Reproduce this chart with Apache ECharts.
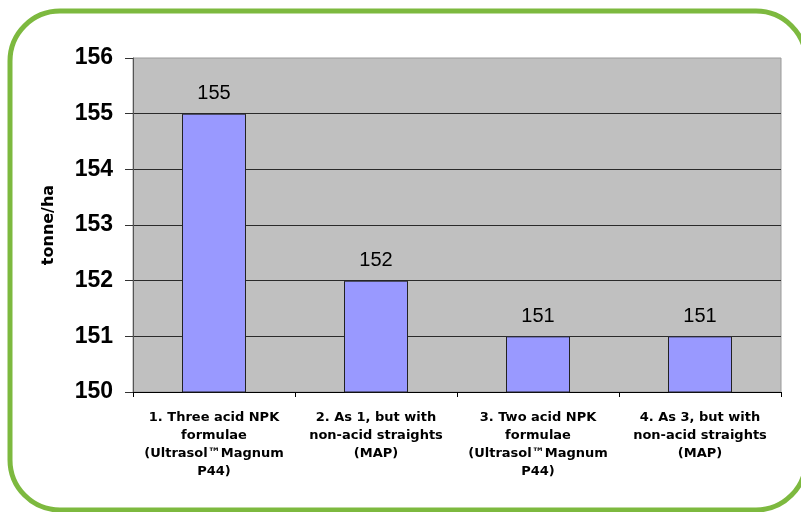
<!DOCTYPE html>
<html>
<head>
<meta charset="utf-8">
<script src="https://cdn.jsdelivr.net/npm/echarts@6/dist/echarts.min.js"></script>
<style>
  html, body { margin: 0; padding: 0; background: #fff; }
  #chart { width: 801px; height: 512px; }
</style>
</head>
<body>
<div id="chart"></div>
<script>
// Yield per fertiliser programme
const categories = [
  '1. Three acid NPK\nformulae\n(Ultrasol\u2122Magnum\nP44)',
  '2. As 1, but with\nnon-acid straights\n(MAP)',
  '3. Two acid NPK\nformulae\n(Ultrasol\u2122Magnum\nP44)',
  '4. As 3, but with\nnon-acid straights\n(MAP)'
];
const yieldValues = [155, 152, 151, 151];
const yAxisTitle = 'tonne/ha';
const yMin = 150;
const yMax = 156;
const yStep = 1;

const chart = echarts.init(document.getElementById('chart'), null, { renderer: 'canvas' });

chart.setOption({
  animation: false,
  backgroundColor: '#ffffff',
  graphic: [{
    type: 'rect',
    z: -10,
    shape: { x: 10, y: 11, width: 796, height: 499, r: 50 },
    style: { fill: 'none', stroke: '#7db93f', lineWidth: 5 }
  }],
  grid: {
    left: 133, right: 20, top: 58, bottom: 120,
    show: true,
    backgroundColor: '#c0c0c0',
    borderColor: '#9a9a9a',
    borderWidth: 1
  },
  xAxis: {
    type: 'category',
    data: categories,
    axisLine: { lineStyle: { color: '#000', width: 1 } },
    axisTick: { show: true, length: 5, lineStyle: { color: '#000' } },
    axisLabel: {
      interval: 0,
      margin: 17,
      color: '#000',
      fontFamily: 'DejaVu Sans, sans-serif',
      fontWeight: 'bold',
      fontSize: 13,
      lineHeight: 18
    }
  },
  yAxis: {
    type: 'value',
    min: yMin, max: yMax, interval: yStep,
    name: yAxisTitle,
    nameLocation: 'middle',
    nameGap: 76,
    nameRotate: 90,
    nameTextStyle: {
      color: '#000',
      fontFamily: 'DejaVu Sans, sans-serif',
      fontWeight: 'bold',
      fontSize: 16
    },
    axisLine: { show: true, lineStyle: { color: '#555', width: 1 } },
    axisTick: { show: true, length: 8, lineStyle: { color: '#333' } },
    axisLabel: {
      margin: 20,
      color: '#000',
      fontFamily: 'Liberation Sans, Arial, sans-serif',
      fontWeight: 'bold',
      fontSize: 23
    },
    splitLine: {
      show: true,
      showMaxLine: false,
      lineStyle: { color: '#2a2a2a', width: 1 }
    }
  },
  series: [{
    type: 'bar',
    data: yieldValues,
    barWidth: 64,
    itemStyle: { color: '#9999ff', borderColor: '#222', borderWidth: 1 },
    label: {
      show: true,
      position: 'top',
      distance: 10,
      color: '#000',
      fontFamily: 'Liberation Sans, Arial, sans-serif',
      fontSize: 20
    }
  }]
});
</script>
</body>
</html>
